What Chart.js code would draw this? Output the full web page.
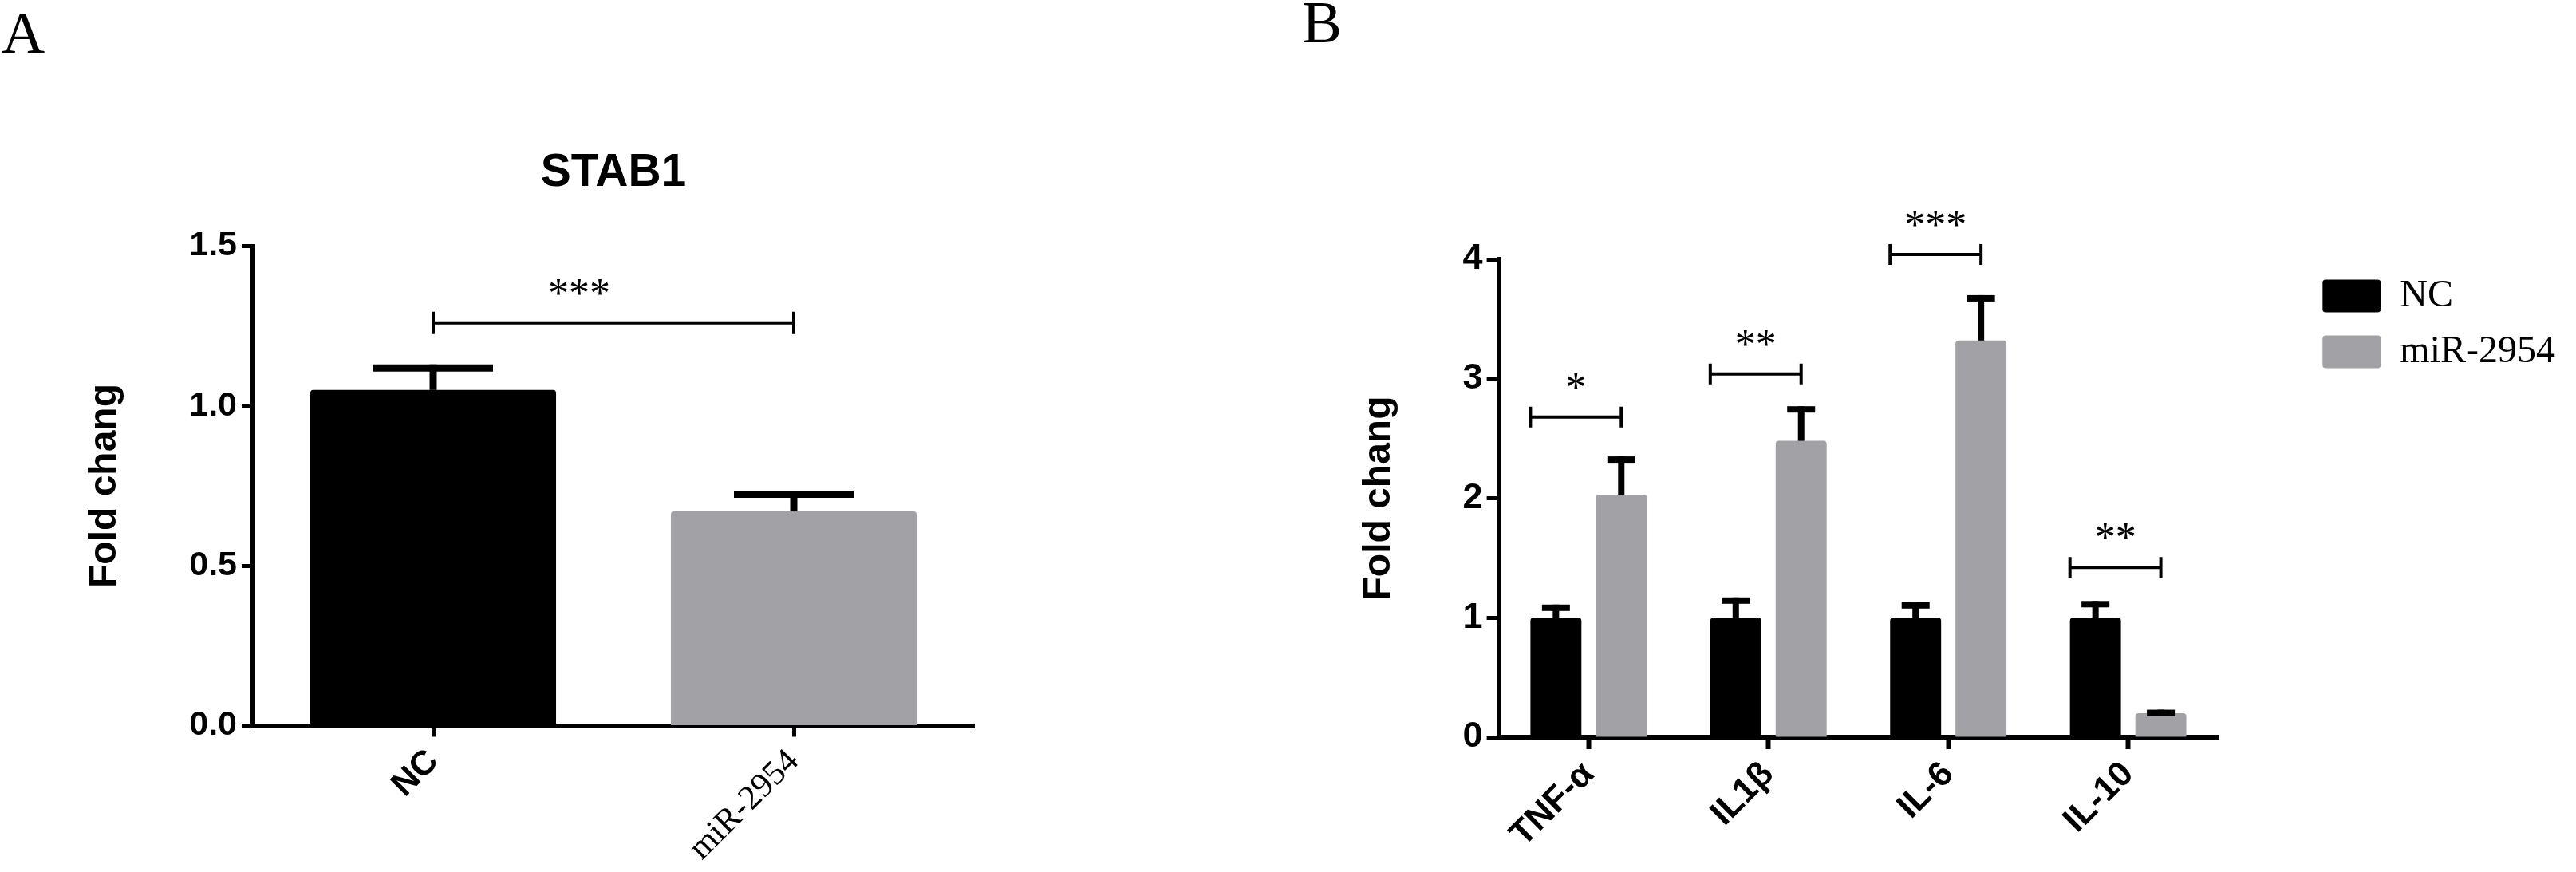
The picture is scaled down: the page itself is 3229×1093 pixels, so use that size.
<!DOCTYPE html>
<html><head><meta charset="utf-8">
<script src="https://cdn.jsdelivr.net/npm/chart.js@4.4.1/dist/chart.umd.min.js"></script>
<style>
html,body{margin:0;padding:0;background:#fff;width:3229px;height:1093px;overflow:hidden}
.panel{position:absolute;top:0;height:1093px}
.letter{position:absolute;font-family:"Liberation Serif","Times New Roman",serif;font-size:75px;line-height:75px;color:#000}
</style></head><body>
<div class="letter" style="left:2px;top:3px">A</div>
<div class="letter" style="left:1632px;top:-10px">B</div>
<div class="panel" style="left:0;width:1600px"><canvas id="chartA"></canvas></div>
<div class="panel" style="left:1600px;width:1629px"><canvas id="chartB"></canvas></div>
<script>
// ---------- data: panel A ----------
const catsA = ['NC', 'miR-2954'];
const valuesA = [1.05, 0.67];
const errorsA = [0.08, 0.065];
const yTicksA = ['0.0', '0.5', '1.0', '1.5'];
const sigLevelA = [1.26];
const sigTextA = ['***'];

// ---------- data: panel B ----------
const catsB = ['TNF-α', 'IL1β', 'IL-6', 'IL-10'];
const seriesB = ['NC', 'miR-2954'];
const ncB = [1.0, 1.0, 1.0, 1.0];
const ncErrB = [0.11, 0.17, 0.13, 0.14];
const mirB = [2.03, 2.48, 3.32, 0.20];
const mirErrB = [0.32, 0.29, 0.38, 0.03];
const yTicksB = ['0', '1', '2', '3', '4'];
const sigLevelB = [2.68, 3.04, 4.04, 1.42];
const sigTextB = ['*', '**', '***', '**'];

const SANS = '"Liberation Sans", Arial, sans-serif';
const SERIF = '"Liberation Serif", "Times New Roman", serif';
const BLACK = '#000000';
const GRAY = '#a2a2a6';

function makeAnnot(cfg) {
  return {
    id: 'annot' + cfg.name,
    afterDatasetsDraw(chart) {
      const ctx = chart.ctx;
      const y = chart.scales.y;
      ctx.save();
      ctx.fillStyle = '#000';
      ctx.strokeStyle = '#000';
      // error bars
      cfg.errors.forEach((errs, di) => {
        const meta = chart.getDatasetMeta(di);
        meta.data.forEach((bar, i) => {
          const v = chart.data.datasets[di].data[i];
          const yTop = y.getPixelForValue(v + errs[i]);
          const yBar = y.getPixelForValue(v);
          ctx.fillRect(bar.x - cfg.stemWidth / 2, yTop, cfg.stemWidth, yBar - yTop);
          ctx.fillRect(bar.x - cfg.capWidth / 2, yTop, cfg.capWidth, cfg.capThickness);
        });
      });
      // significance brackets
      ctx.lineWidth = cfg.bracketWidth;
      cfg.levels.forEach((lv, i) => {
        let x0, x1;
        if (cfg.mode === 'within') {
          const d = chart.getDatasetMeta(0).data;
          x0 = d[0].x; x1 = d[1].x;
        } else {
          const bl = chart.getDatasetMeta(0).data[i];
          const br = chart.getDatasetMeta(1).data[i];
          x0 = bl.x - bl.width / 2; x1 = br.x;
        }
        const yl = y.getPixelForValue(lv);
        const th = cfg.endTick;
        ctx.beginPath();
        ctx.moveTo(x0, yl); ctx.lineTo(x1, yl);
        ctx.moveTo(x0, yl - th); ctx.lineTo(x0, yl + th);
        ctx.moveTo(x1, yl - th); ctx.lineTo(x1, yl + th);
        ctx.stroke();
        ctx.font = '52px ' + SERIF;
        ctx.textAlign = 'center';
        ctx.textBaseline = 'alphabetic';
        ctx.fillText(cfg.texts[i], (x0 + x1) / 2 + cfg.labelDx, yl - 20);
      });
      ctx.restore();
    }
  };
}

// ---------- panel A ----------
new Chart(document.getElementById('chartA'), {
  type: 'bar',
  data: {
    labels: catsA,
    datasets: [{
      label: 'STAB1',
      data: valuesA,
      backgroundColor: [BLACK, GRAY],
      borderWidth: 0,
      borderRadius: 4,
      categoryPercentage: 0.8,
      barPercentage: 0.852
    }]
  },
  options: {
    responsive: true, maintainAspectRatio: false, animation: false,
    layout: { padding: { top: 0, left: 0, right: 379, bottom: 0 } },
    plugins: {
      legend: { display: false },
      tooltip: { enabled: false },
      title: {
        display: true, text: 'STAB1', fullSize: false, color: '#000',
        font: { family: SANS, size: 57, weight: 'bold' },
        padding: { top: 182.8, bottom: 57.3 }
      }
    },
    scales: {
      x: {
        offset: true,
        grid: { display: true, drawOnChartArea: false, drawTicks: true, tickLength: 14, tickWidth: 5, tickColor: '#000', offset: false },
        border: { display: true, color: '#000', width: 6 },
        ticks: {
          color: '#000', maxRotation: 45, minRotation: 45, autoSkip: false, padding: 6,
          font: (c) => c.index === 0
            ? { family: SANS, size: 43, weight: 'bold' }
            : { family: SERIF, size: 43, weight: 'normal' }
        },
        afterFit: (s) => { s.height = 183.5; }
      },
      y: {
        min: 0, max: 1.5,
        ticks: {
          stepSize: 0.5, color: '#000', padding: 6,
          font: { family: SANS, size: 43, weight: 'bold' },
          callback: (v, i) => yTicksA[i]
        },
        grid: { display: true, drawOnChartArea: false, drawTicks: true, tickLength: 14, tickWidth: 5, tickColor: '#000' },
        border: { display: true, color: '#000', width: 6 },
        title: {
          display: true, text: 'Fold chang', color: '#000',
          font: { family: SANS, size: 48, weight: 'bold' },
          padding: { top: 103, bottom: 0 }
        },
        afterFit: (s) => { s.width = 317; }
      }
    }
  },
  plugins: [makeAnnot({
    name: 'A', errors: [errorsA], stemWidth: 9, capWidth: 150, capThickness: 9,
    levels: sigLevelA, texts: sigTextA, mode: 'within', bracketWidth: 4, endTick: 14, labelDx: -43
  })]
});

// ---------- panel B ----------
new Chart(document.getElementById('chartB'), {
  type: 'bar',
  data: {
    labels: catsB,
    datasets: [
      { label: seriesB[0], data: ncB, backgroundColor: BLACK, borderWidth: 0, borderRadius: 4, categoryPercentage: 0.727, barPercentage: 0.78 },
      { label: seriesB[1], data: mirB, backgroundColor: GRAY, borderWidth: 0, borderRadius: 4, categoryPercentage: 0.727, barPercentage: 0.78 }
    ]
  },
  options: {
    responsive: true, maintainAspectRatio: false, animation: false,
    layout: { padding: { top: 325, left: 0, right: 16, bottom: 0 } },
    plugins: {
      tooltip: { enabled: false },
      title: { display: false },
      legend: {
        display: true, position: 'right', align: 'start', maxWidth: 420,
        labels: {
          boxWidth: 73, boxHeight: 41, padding: 22, color: '#000',
          font: { family: SERIF, size: 48 },
          useBorderRadius: true, borderRadius: 4
        }
      }
    },
    scales: {
      x: {
        offset: true,
        grid: { display: true, drawOnChartArea: false, drawTicks: true, tickLength: 15, tickWidth: 6, tickColor: '#000', offset: false },
        border: { display: true, color: '#000', width: 6 },
        ticks: {
          color: '#000', maxRotation: 45, minRotation: 45, autoSkip: false, padding: 6,
          font: { family: SANS, size: 44, weight: 'bold' }
        },
        afterFit: (s) => { s.height = 169; }
      },
      y: {
        min: 0, max: 4,
        ticks: {
          stepSize: 1, color: '#000', padding: 5,
          font: { family: SANS, size: 45, weight: 'bold' },
          callback: (v, i) => yTicksB[i]
        },
        grid: { display: true, drawOnChartArea: false, drawTicks: true, tickLength: 15, tickWidth: 5, tickColor: '#000' },
        border: { display: true, color: '#000', width: 6 },
        title: {
          display: true, text: 'Fold chang', color: '#000',
          font: { family: SANS, size: 48, weight: 'bold' },
          padding: { top: 100, bottom: 0 }
        },
        afterFit: (s) => { s.width = 278.6; }
      },
      gap: {
        type: 'linear', position: 'right', display: true,
        ticks: { display: false }, grid: { display: false }, border: { display: false },
        afterFit: (s) => { s.width = 109; }
      }
    }
  },
  plugins: [makeAnnot({
    name: 'B', errors: [ncErrB, mirErrB], stemWidth: 8, capWidth: 35, capThickness: 8,
    levels: sigLevelB, texts: sigTextB, mode: 'across', bracketWidth: 4, endTick: 13, labelDx: 0
  })]
});
</script>
</body></html>
